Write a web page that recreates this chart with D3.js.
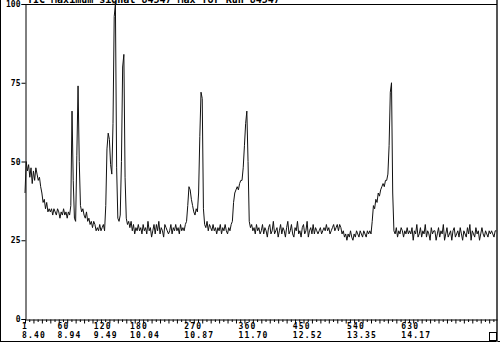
<!DOCTYPE html>
<html>
<head>
  <style>
    html, body { margin: 0; padding: 0; background: white; }
    svg { display: block; }
    .lbl { font-family: "DejaVu Sans Mono", monospace; font-weight: bold; fill: #000; }
  </style>
</head>
<body>
  <div id="chart"></div>
  <script src="https://cdnjs.cloudflare.com/ajax/libs/d3/7.8.5/d3.min.js"></script>
  <script>
    // TIC trace, one value every 2 scans starting at scan 1 (% of max signal)
    const scanStart = 1;
    const scanStep = 2;
    const signal = [
      40, 50, 47, 49, 45, 48, 43, 47, 44, 48, 46, 44, 45, 42, 40, 37, 38, 35, 37, 34,
      35, 34, 35, 33, 35, 34, 33, 35, 34, 32, 34, 33, 35, 33, 34, 32, 34, 33, 36, 66,
      44, 32, 31, 52, 74, 50, 36, 34, 35, 33, 32, 34, 31, 32, 30, 31, 29, 31, 30, 28,
      29, 28, 30, 28, 29, 30, 28, 36, 54, 59, 57, 49, 46, 62, 96, 100, 48, 32, 31, 33,
      50, 80, 84, 45, 32, 30, 31, 29, 31, 28, 30, 27, 29, 28, 30, 28, 29, 27, 30, 28,
      29, 27, 31, 28, 29, 26, 28, 30, 27, 30, 28, 31, 27, 29, 28, 26, 30, 29, 28, 27,
      28, 30, 27, 29, 28, 30, 28, 29, 27, 30, 28, 29, 28, 30, 31, 36, 42, 41, 38, 36,
      34, 33, 35, 34, 40, 58, 72, 70, 35, 30, 29, 31, 28, 30, 29, 28, 30, 28, 29, 27,
      29, 28, 30, 27, 29, 28, 30, 28, 27, 29, 28, 30, 31, 37, 40, 41, 42, 41, 43, 44,
      44, 48, 55, 62, 66, 50, 31, 29, 30, 28, 29, 27, 30, 28, 29, 27, 28, 30, 27, 29,
      28, 26, 29, 30, 27, 28, 31, 27, 28, 29, 26, 28, 30, 27, 29, 28, 26, 29, 31, 27,
      28, 30, 27, 26, 29, 28, 31, 27, 28, 26, 29, 30, 27, 28, 31, 26, 28, 29, 27, 30,
      27, 29, 28, 27, 28, 29, 27, 28, 29, 28, 30, 28, 29, 27, 28, 29, 30, 28, 29, 30,
      28, 30, 29, 27, 28, 26, 27, 25, 27, 26, 28, 26, 25, 27, 26, 28, 27, 26, 28, 27,
      26, 28, 27, 26, 28, 27, 28, 27, 31, 36, 35, 38, 37, 40, 39, 41, 42, 43, 42, 44,
      44, 46, 55, 72, 75, 40, 28, 27, 29, 26, 28, 27, 29, 28, 26, 28, 27, 29, 27, 28,
      27, 29, 25, 28, 27, 30, 26, 27, 29, 26, 28, 27, 30, 26, 28, 27, 25, 29, 27, 28,
      28, 25, 27, 29, 26, 28, 27, 30, 25, 27, 29, 26, 27, 28, 25, 28, 29, 26, 27, 28,
      26, 29, 27, 25, 28, 27, 26, 29, 27, 30, 25, 28, 27, 26, 29, 27, 28, 25, 27, 29,
      27, 26, 28, 27, 26, 28, 27, 28, 27, 26, 28, 28
    ];

    // axis labels
    const scanTicks = [1, 60, 120, 180, 270, 360, 450, 540, 630];
    const rtLabels = ["8.40", "8.94", "9.49", "10.04", "10.87", "11.70", "12.52", "13.35", "14.17"];
    const yTicks = [0, 25, 50, 75, 100];
    const title = "TIC Maximum signal 84547 Max for Run 84547";

    const width = 500;
    const height = 342;
    const plot = { left: 25, right: 497, top: 4, bottom: 319 };
    const minorStep = 7;

    const svg = d3.select("#chart").append("svg")
      .attr("width", width)
      .attr("height", height);

    const x = d3.scaleLinear().domain([1, 784]).range([plot.left, plot.right]);
    const y = d3.scaleLinear().domain([0, 100]).range([plot.bottom, plot.top]);

    // outer frame
    svg.append("line").attr("x1", 0.5).attr("x2", 0.5).attr("y1", 0).attr("y2", height)
      .attr("stroke", "#000");
    svg.append("line").attr("x1", 0).attr("x2", width).attr("y1", height - 0.5).attr("y2", height - 0.5)
      .attr("stroke", "#000");
    svg.append("line").attr("x1", plot.right).attr("x2", plot.right).attr("y1", 0).attr("y2", height)
      .attr("stroke", "#555").attr("stroke-width", 2);
    svg.append("rect").attr("x", 489.5).attr("y", 332.5).attr("width", 7).attr("height", 8)
      .attr("fill", "white").attr("stroke", "#000");

    // title, partly cut off at the top
    svg.append("text").attr("class", "lbl")
      .attr("x", 27).attr("y", 3)
      .style("font-size", "10px")
      .text(title);

    // plot box top edge
    svg.append("line").attr("x1", plot.left).attr("x2", plot.right)
      .attr("y1", plot.top + 0.5).attr("y2", plot.top + 0.5).attr("stroke", "#000");

    const yAxis = d3.axisLeft(y).tickValues(yTicks).tickSize(4).tickPadding(1)
      .tickFormat(d3.format("d"));
    const yG = svg.append("g").attr("transform", `translate(${plot.left + 0.5},0)`).call(yAxis);
    yG.select(".domain").attr("stroke", "#000");
    yG.selectAll("text").attr("class", "lbl").style("font-size", "8px").attr("font-family", null);

    const minor = d3.range(1, 784, minorStep);
    const xAxis = d3.axisBottom(x).tickValues(minor)
      .tickSize(0).tickFormat("").tickSizeOuter(0);
    const xG = svg.append("g").attr("transform", `translate(0,${plot.bottom + 0.5})`).call(xAxis);
    xG.select(".domain").attr("stroke", "#000");
    xG.selectAll(".tick line")
      .attr("y2", (d, i) => i % 2 === 0 ? 4 : 2.5)
      .attr("stroke", "#000");

    const labels = svg.append("g");
    labels.selectAll(".scan").data(scanTicks).join("text")
      .attr("class", "lbl scan")
      .attr("x", d => x(d) - 3).attr("y", 328.5)
      .style("font-size", "8px").style("letter-spacing", "1.2px")
      .text(d => d);
    labels.selectAll(".rt").data(rtLabels).join("text")
      .attr("class", "lbl rt")
      .attr("x", (d, i) => x(scanTicks[i]) - 3).attr("y", 338)
      .style("font-size", "8px").style("letter-spacing", "1.2px")
      .text(d => d);

    // trace
    const line = d3.line()
      .x((d, i) => x(scanStart + i * scanStep))
      .y(d => y(d));

    svg.append("path")
      .datum(signal)
      .attr("fill", "none")
      .attr("stroke", "#111")
      .attr("stroke-width", 1)
      .attr("d", line);
  </script>
</body>
</html>
